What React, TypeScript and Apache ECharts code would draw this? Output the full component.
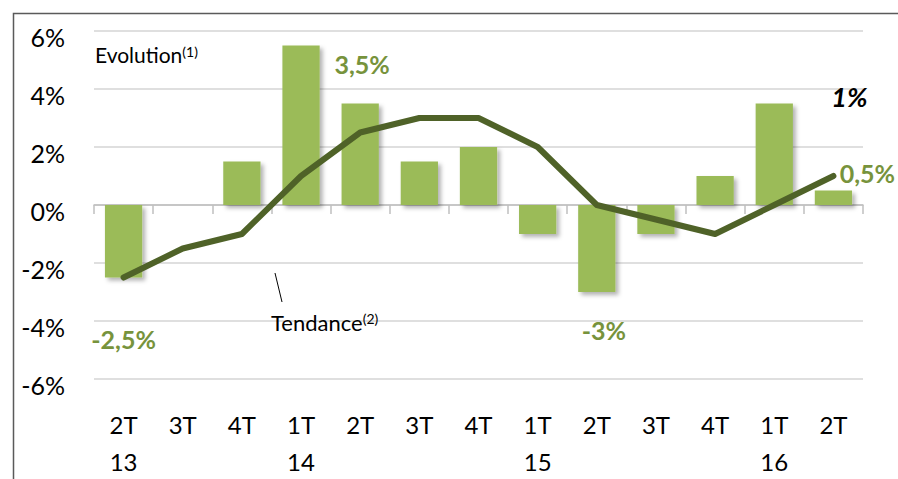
import React, { useEffect, useRef } from "react";
import * as echarts from "echarts";

const quarters = ["2T", "3T", "4T", "1T", "2T", "3T", "4T", "1T", "2T", "3T", "4T", "1T", "2T"];
const years = ["13", "", "", "14", "", "", "", "15", "", "", "", "16", ""];
const evolution = [-2.5, 0, 1.5, 5.5, 3.5, 1.5, 2, -1, -3, -1, 1, 3.5, 0.5];
const tendance = [-2.5, -1.5, -1, 1, 2.5, 3, 3, 2, 0, -0.5, -1, 0, 1];
const yTicks = { min: -6, max: 6, interval: 2 };

const FONT = "Lato, 'Open Sans', sans-serif";
const BAR = "#9BBB59";
const LINE = "#4F6228";
const LABEL_GREEN = "#77933C";

const fmt = (v: number) => String(v).replace(".", ",") + "%";

export default function App() {
  const ref = useRef<HTMLDivElement>(null);
  useEffect(() => {
    if (!ref.current) return;
    const chart = echarts.init(ref.current, undefined, { renderer: "svg" });

    const barLabelCfg: Record<number, any> = {
      0: { position: "bottom", offset: [0, 44] },
      4: { position: "top", offset: [2, -22] },
      8: { position: "bottom", offset: [7, 20] },
      12: { position: "top", offset: [34, 0] },
    };
    const barData = evolution.map((v, i) =>
      barLabelCfg[i]
        ? {
            value: v,
            label: {
              show: true,
              formatter: (p: any) => fmt(p.value),
              color: LABEL_GREEN,
              fontFamily: FONT,
              fontWeight: "bold",
              fontSize: 25,
              ...barLabelCfg[i],
            },
          }
        : v
    );
    const lineData = tendance.map((v, i) =>
      i === tendance.length - 1
        ? {
            value: v,
            label: {
              show: true,
              position: "top",
              offset: [16, -61],
              formatter: (p: any) => fmt(p.value),
              color: "#000",
              fontFamily: FONT,
              fontWeight: "bold",
              fontStyle: "italic",
              fontSize: 27,
            },
          }
        : v
    );

    chart.setOption({
      animation: false,
      backgroundColor: "#fff",
      grid: {
        left: 94,
        right: 35,
        top: 31,
        bottom: 100,
        containLabel: false,
        outerBoundsMode: "none",
      },
      xAxis: [
        {
          type: "category",
          data: quarters,
          position: "bottom",
          axisLine: { show: false, onZero: false },
          axisTick: { show: false },
          splitLine: { show: false },
          axisLabel: {
            margin: 27,
            fontFamily: FONT,
            fontSize: 24,
            color: "#000",
            lineHeight: 37,
            formatter: (v: string, i: number) => (years[i] ? `${v}\n${years[i]}` : `${v}\n `),
          },
        },
        {
          type: "category",
          data: quarters,
          position: "bottom",
          axisLine: { show: true, onZero: true, lineStyle: { color: "#bfbfbf", width: 1.5 } },
          axisTick: { show: true, length: 9, inside: false, lineStyle: { color: "#bfbfbf", width: 1.5 } },
          axisLabel: { show: false },
          splitLine: { show: false },
        },
      ],
      yAxis: {
        type: "value",
        min: yTicks.min,
        max: yTicks.max,
        interval: yTicks.interval,
        axisLine: { show: false },
        axisTick: { show: false },
        splitLine: { lineStyle: { color: "#d4d4d4", width: 1.5 } },
        axisLabel: {
          margin: 29,
          fontFamily: FONT,
          fontSize: 25,
          color: "#000",
          verticalAlign: "top",
          lineHeight: 12,
          formatter: (v: number) => `${v}%`,
        },
      },
      series: [
        {
          type: "bar",
          xAxisIndex: 0,
          data: barData,
          barWidth: "63%",
          itemStyle: {
            color: BAR,
            shadowBlur: 4,
            shadowOffsetX: 3,
            shadowOffsetY: 3,
            shadowColor: "rgba(0,0,0,0.3)",
          },
          z: 2,
        },
        {
          type: "line",
          xAxisIndex: 0,
          data: lineData,
          symbol: "circle",
          symbolSize: 1,
          showSymbol: true,
          itemStyle: { color: LINE },
          lineStyle: { color: LINE, width: 6, cap: "round", join: "round" },
          z: 3,
        },
      ],
      graphic: [
        {
          type: "rect",
          left: 11,
          top: 11,
          shape: { width: 1000, height: 1000 },
          style: { fill: "none", stroke: "#5a5a5a", lineWidth: 1.5 },
          silent: true,
          z: 0,
        },
        {
          type: "text",
          left: 95,
          top: 44,
          style: {
            text: "{a|Evolution}{s|(1)}",
            rich: {
              a: { fontFamily: FONT, fontSize: 21, fill: "#000", verticalAlign: "bottom" },
              s: { fontFamily: FONT, fontSize: 14, fill: "#000", verticalAlign: "top" },
            },
          },
          z: 10,
        },
        {
          type: "text",
          left: 271,
          top: 311,
          style: {
            text: "{a|Tendance}{s|(2)}",
            rich: {
              a: { fontFamily: FONT, fontSize: 22, fill: "#000", verticalAlign: "bottom" },
              s: { fontFamily: FONT, fontSize: 14, fill: "#000", verticalAlign: "top" },
            },
          },
          z: 10,
        },
        {
          type: "line",
          shape: { x1: 275, y1: 273, x2: 282, y2: 302 },
          style: { stroke: "#000", lineWidth: 1 },
          z: 10,
        },
      ],
    });
    return () => chart.dispose();
  }, []);
  return (
    <div
      ref={ref}
      style={{ position: "fixed", left: 0, top: 0, width: 898, height: 479 }}
    />
  );
}
